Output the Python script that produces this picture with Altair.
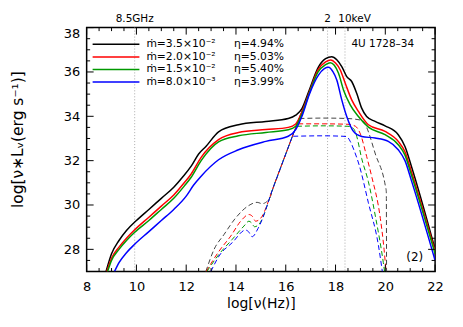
import altair as alt
import pandas as pd
import numpy as np

# ---------------- data ----------------
names = ["m35", "m20", "m15", "m08"]
mdot_text = ["ṁ=3.5×10⁻²", "ṁ=2.0×10⁻²", "ṁ=1.5×10⁻²", "ṁ=8.0×10⁻³"]
eta_text = ["η=4.94%", "η=5.03%", "η=5.40%", "η=3.99%"]
line_colors = ["#000000", "#ff0000", "#009900", "#0000ff"]
dash_colors = ["#444444", "#ff0000", "#009900", "#0000ff"]

# total spectra (solid)
black_x = [8.78, 9.0, 9.3, 9.6, 10.0, 10.5, 11.0, 11.5, 11.85, 12.2, 12.5, 12.8, 13.3, 14.1, 15.2, 16.1, 16.4, 16.65, 16.95, 17.3, 17.6, 17.85, 18.05, 18.25, 18.45, 18.65, 18.85, 19.05, 19.25, 19.59, 19.99, 20.52, 20.79, 21.05, 22.0]
black_y = [27.0, 27.8, 28.4, 28.85, 29.3, 29.8, 30.3, 30.8, 31.25, 31.75, 32.3, 32.65, 33.3, 33.62, 33.77, 33.9, 34.05, 34.35, 35.2, 36.2, 36.6, 36.69, 36.55, 36.24, 35.79, 35.57, 35.04, 34.37, 33.99, 33.77, 33.57, 33.17, 32.64, 31.74, 28.0]
red_x = [8.81, 9.0, 9.3, 9.6, 9.92, 10.5, 11.0, 11.5, 11.92, 12.2, 12.6, 13.3, 14.1, 15.2, 16.1, 16.4, 16.65, 16.95, 17.3, 17.6, 17.81, 18.0, 18.19, 18.39, 18.65, 18.92, 19.32, 19.99, 20.52, 20.79, 21.05, 22.0]
red_y = [27.0, 27.6, 28.1, 28.5, 28.87, 29.45, 29.95, 30.45, 31.0, 31.4, 32.15, 32.95, 33.27, 33.4, 33.5, 33.65, 34.2, 35.1, 36.1, 36.45, 36.54, 36.4, 36.09, 35.49, 34.74, 34.22, 33.62, 33.32, 32.87, 32.4, 31.5, 27.9]
green_x = [8.84, 9.0, 9.3, 9.6, 9.92, 10.5, 11.0, 11.5, 11.92, 12.2, 12.6, 13.3, 14.1, 15.2, 16.1, 16.4, 16.65, 16.95, 17.3, 17.6, 17.79, 17.95, 18.12, 18.32, 18.59, 18.92, 19.32, 19.99, 20.52, 20.79, 21.05, 22.0]
green_y = [27.0, 27.5, 28.0, 28.4, 28.76, 29.3, 29.8, 30.3, 30.85, 31.25, 32.0, 32.85, 33.12, 33.27, 33.39, 33.55, 34.1, 35.05, 36.0, 36.33, 36.42, 36.3, 35.94, 35.19, 34.52, 33.99, 33.51, 33.17, 32.72, 32.25, 31.35, 27.8]
blue_x = [9.12, 9.3, 9.6, 9.92, 10.5, 11.0, 11.5, 12.0, 12.3, 12.6, 13.3, 14.1, 15.2, 16.1, 16.4, 16.65, 16.95, 17.32, 17.55, 17.72, 17.9, 18.05, 18.25, 18.45, 18.72, 19.05, 19.59, 20.12, 20.52, 20.79, 21.05, 22.0]
blue_y = [27.0, 27.4, 27.85, 28.22, 28.8, 29.3, 29.8, 30.4, 30.9, 31.3, 32.04, 32.49, 32.87, 33.1, 33.4, 34.0, 35.0, 35.87, 36.15, 36.21, 36.0, 35.64, 34.74, 33.99, 33.32, 33.09, 33.02, 32.87, 32.49, 32.0, 31.1, 27.5]

# low-frequency components (dashed)
black_lo_x = [12.79, 13.12, 13.52, 13.99, 14.52, 14.85, 15.05, 15.35, 15.52, 16.0, 16.52, 16.75]
black_lo_y = [27.0, 28.0, 28.67, 29.42, 29.98, 30.12, 30.06, 30.3, 30.86, 32.3, 33.84, 34.5]
red_lo_x = [12.8, 13.32, 13.79, 14.19, 14.52, 14.65, 14.79, 14.99, 15.52, 16.0, 16.52, 16.75]
red_lo_y = [27.0, 27.92, 28.6, 29.27, 29.57, 29.5, 29.27, 29.4, 30.86, 32.3, 33.84, 34.5]
green_lo_x = [12.83, 13.32, 13.85, 14.32, 14.52, 14.62, 14.75, 14.9, 15.52, 16.0, 16.52, 16.75]
green_lo_y = [27.0, 27.78, 28.45, 29.05, 29.27, 29.2, 29.02, 29.1, 30.86, 32.3, 33.84, 34.5]
blue_lo_x = [12.99, 13.32, 13.85, 14.39, 14.5, 14.65, 14.89, 15.52, 16.0, 16.52, 16.75]
blue_lo_y = [27.0, 27.7, 28.3, 28.87, 28.8, 28.57, 28.95, 30.86, 32.3, 33.84, 34.5]

# high-frequency components (dashed)
black_hi_x = [16.55, 17.5, 18.5, 18.9, 19.1, 19.25, 19.6, 20.0, 20.04, 20.05]
black_hi_y = [33.9, 33.92, 33.9, 33.85, 33.8, 33.5, 32.3, 30.87, 30.6, 27.0]
red_hi_x = [16.5, 17.5, 18.5, 18.8, 19.0, 19.25, 19.45, 19.8, 19.95, 20.03]
red_hi_y = [33.66, 33.66, 33.64, 33.55, 33.2, 32.19, 31.3, 29.4, 28.0, 27.0]
green_hi_x = [16.45, 17.5, 18.5, 18.72, 18.85, 19.05, 19.32, 19.6, 19.92, 19.97]
green_hi_y = [33.55, 33.57, 33.55, 33.45, 33.1, 32.1, 31.05, 29.5, 27.4, 27.0]
blue_hi_x = [16.3, 17.5, 18.3, 18.45, 18.6, 18.75, 18.95, 19.32, 19.72, 19.88]
blue_hi_y = [33.1, 33.12, 33.1, 33.08, 32.85, 32.45, 31.8, 30.1, 28.2, 27.0]

# reference frequencies (top axis)
ref_x = [9.93, 17.68, 18.38]
ref_labels = ["8.5GHz", "2", "10keV"]

x_ticks = list(range(8, 23, 2))
y_ticks = list(range(28, 39, 2))

# ---------------- build tables ----------------
solid_sets = [(black_x, black_y), (red_x, red_y), (green_x, green_y), (blue_x, blue_y)]
lo_sets = [(black_lo_x, black_lo_y), (red_lo_x, red_lo_y), (green_lo_x, green_lo_y), (blue_lo_x, blue_lo_y)]
hi_sets = [(black_hi_x, black_hi_y), (red_hi_x, red_hi_y), (green_hi_x, green_hi_y), (blue_hi_x, blue_hi_y)]

rows = []
for n, (xs_, ys_) in zip(names, solid_sets):
    for i, (a, b) in enumerate(zip(xs_, ys_)):
        rows.append({"x": a, "y": b, "s": n, "g": n, "i": i})
solid_df = pd.DataFrame(rows)

rows = []
for n, (xs_, ys_) in zip(names, lo_sets):
    for i, (a, b) in enumerate(zip(xs_, ys_)):
        rows.append({"x": a, "y": b, "s": "d_" + n, "g": n + "_lo", "i": i})
for n, (xs_, ys_) in zip(names, hi_sets):
    for i, (a, b) in enumerate(zip(xs_, ys_)):
        rows.append({"x": a, "y": b, "s": "d_" + n, "g": n + "_hi", "i": i})
dash_df = pd.DataFrame(rows)

W, H = 350, 245
PXX = W / 14.0
PXY = H / 11.0

leg_df = pd.DataFrame({
    "s": names,
    "m": mdot_text,
    "e": eta_text,
    "ly": [38 - (16.8 + 12.6 * k) / PXY for k in range(4)],
})
leg_df["x1"] = 8 + 6 / PXX
leg_df["x2"] = 8 + 53 / PXX
leg_df["xm"] = 8 + 60 / PXX
leg_df["xe"] = 8 + 148 / PXX

xs = alt.Scale(domain=[8, 22], nice=False, zero=False)
ys = alt.Scale(domain=[27, 38], nice=False, zero=False)
color = alt.Color("s:N", scale=alt.Scale(domain=names + ["d_" + n for n in names],
                                         range=line_colors + dash_colors), legend=None)
FONT = "DejaVu Sans"

xaxis = alt.Axis(values=x_ticks, format="d", ticks=False, tickSize=0, domain=False, grid=False,
                 labelFont=FONT, labelFontSize=13, labelColor="black", labelPadding=9,
                 labelFlush=False, labelOverlap=False,
                 title="log[ν(Hz)]", titleFont=FONT, titleFontSize=14, titleFontWeight="normal",
                 titleColor="black", titleX=W / 2, titleY=32, titleAlign="center", titleBaseline="middle")
yaxis = alt.Axis(values=y_ticks, format="d", ticks=False, tickSize=0, domain=False, grid=False,
                 labelFont=FONT, labelFontSize=13, labelColor="black", labelPadding=7,
                 labelFlush=True, labelOverlap=False,
                 title="log[ν∗Lᵥ(erg s⁻¹)]", titleFont=FONT, titleFontSize=15.5, titleFontWeight="normal",
                 titleColor="black", titleX=-69, titleY=112, titleAngle=270,
                 titleAlign="center", titleBaseline="middle")

ref_df = pd.DataFrame({"x": ref_x, "t": ref_labels})
vlines = alt.Chart(ref_df).mark_rule(color="#aaaaaa", strokeDash=[1, 2], strokeWidth=1).encode(
    x=alt.X("x:Q", scale=xs, axis=xaxis))

dashed = alt.Chart(dash_df).mark_line(strokeWidth=1, strokeDash=[5, 3], clip=True,
                                      interpolate="monotone").encode(
    x=alt.X("x:Q", scale=xs, axis=xaxis), y=alt.Y("y:Q", scale=ys, axis=yaxis),
    color=color, detail="g:N", order="i:Q")

solid = alt.Chart(solid_df).mark_line(strokeWidth=1.5, clip=True, interpolate="monotone").encode(
    x=alt.X("x:Q", scale=xs, axis=xaxis), y=alt.Y("y:Q", scale=ys, axis=yaxis),
    color=color, detail="g:N", order="i:Q")

# inward ticks on all four sides
xmaj = pd.DataFrame({"v": x_ticks})
xmin = pd.DataFrame({"v": [v for v in np.arange(8, 22.01, 0.5) if v % 2 != 0]})
ymaj = pd.DataFrame({"v": y_ticks})
ymin = pd.DataFrame({"v": [v for v in np.arange(27, 38.01, 0.5) if v % 2 != 0]})

tick_layers = []
for dfm, ln in [(xmaj, 7), (xmin, 3.5)]:
    tick_layers.append(alt.Chart(dfm).mark_rule(color="black", strokeWidth=1).encode(
        x=alt.X("v:Q", scale=xs), y=alt.value(H), y2=alt.value(H - ln)))
    tick_layers.append(alt.Chart(dfm).mark_rule(color="black", strokeWidth=1).encode(
        x=alt.X("v:Q", scale=xs), y=alt.value(0), y2=alt.value(ln)))
for dfm, ln in [(ymaj, 7), (ymin, 3.5)]:
    tick_layers.append(alt.Chart(dfm).mark_rule(color="black", strokeWidth=1).encode(
        y=alt.Y("v:Q", scale=ys), x=alt.value(0), x2=alt.value(ln)))
    tick_layers.append(alt.Chart(dfm).mark_rule(color="black", strokeWidth=1).encode(
        y=alt.Y("v:Q", scale=ys), x=alt.value(W), x2=alt.value(W - ln)))

top_lab = alt.Chart(ref_df.iloc[:2]).mark_text(font=FONT, fontSize=10.5, align="center",
                                               baseline="middle", color="black").encode(
    x=alt.X("x:Q", scale=xs), y=alt.value(-8.5), text="t:N")
top_lab2 = alt.Chart(ref_df.iloc[2:]).mark_text(font=FONT, fontSize=10.5, align="left", dx=-6.7,
                                                baseline="middle", color="black").encode(
    x=alt.X("x:Q", scale=xs), y=alt.value(-8.5), text="t:N")

leg_lines = alt.Chart(leg_df).mark_rule(strokeWidth=1.5).encode(
    x=alt.X("x1:Q", scale=xs), x2="x2:Q", y=alt.Y("ly:Q", scale=ys), color=color)
leg_m = alt.Chart(leg_df).mark_text(font=FONT, fontSize=10.8, align="left", baseline="middle",
                                    color="black").encode(
    x=alt.X("xm:Q", scale=xs), y=alt.Y("ly:Q", scale=ys), text="m:N")
leg_e = alt.Chart(leg_df).mark_text(font=FONT, fontSize=10.8, align="left", baseline="middle",
                                    color="black").encode(
    x=alt.X("xe:Q", scale=xs), y=alt.Y("ly:Q", scale=ys), text="e:N")

src_df = pd.DataFrame({"x": [8 + 266 / PXX], "y": [38 - 16.5 / PXY], "t": ["4U 1728–34"]})
src = alt.Chart(src_df).mark_text(font=FONT, fontSize=10.5, align="left", baseline="middle",
                                  color="black").encode(
    x=alt.X("x:Q", scale=xs), y=alt.Y("y:Q", scale=ys), text="t:N")
pan_df = pd.DataFrame({"x": [8 + 329.5 / PXX], "y": [38 - 230.5 / PXY], "t": ["(2)"]})
pan = alt.Chart(pan_df).mark_text(font=FONT, fontSize=12, align="center", baseline="middle",
                                  color="black").encode(
    x=alt.X("x:Q", scale=xs), y=alt.Y("y:Q", scale=ys), text="t:N")

chart = alt.layer(vlines, dashed, solid, *tick_layers, top_lab, top_lab2,
                  leg_lines, leg_m, leg_e, src, pan).properties(
    width=W, height=H,
    padding={"left": 79, "top": 19, "right": 20, "bottom": 48},
    autosize=alt.AutoSizeParams(type="none"),
).configure_view(stroke="black", strokeWidth=1.5)

chart.save("out.html", embed_options={"renderer": "svg", "actions": False})
